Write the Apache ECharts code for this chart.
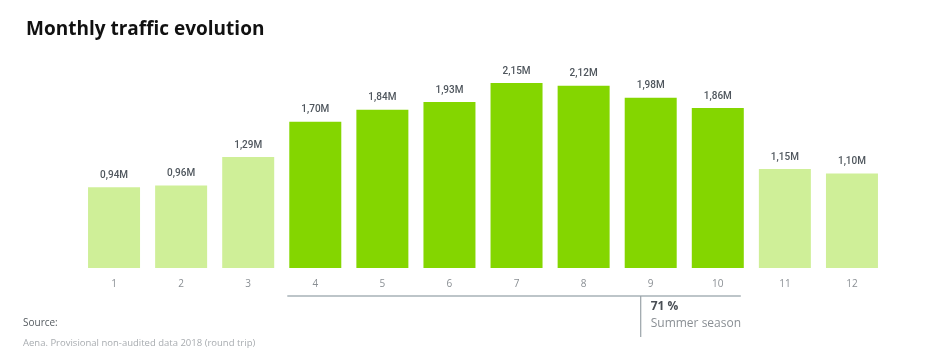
<!DOCTYPE html>
<html><head><meta charset="utf-8">
<script src="https://cdn.jsdelivr.net/npm/echarts@6/dist/echarts.min.js"></script>
<style>html,body{margin:0;padding:0;background:#fff}#c{width:925px;height:360px}</style>
</head><body><div id="c"></div>
<script>
const months = ['1','2','3','4','5','6','7','8','9','10','11','12'];
const traffic = [0.94, 0.96, 1.29, 1.70, 1.84, 1.93, 2.15, 2.12, 1.98, 1.86, 1.15, 1.10];
const summerMonths = ['4','5','6','7','8','9','10'];
const summerShare = '71 %';
const summerLabel = 'Summer season';

const dark = '#84D600', light = '#CFEF98';
const chart = echarts.init(document.getElementById('c'));
const data = traffic.map((v, i) => ({
  value: v,
  itemStyle: { color: summerMonths.includes(months[i]) ? dark : light }
}));
chart.setOption({
  animation: false,
  title: {
    text: 'Monthly traffic evolution', left: 21, top: 15,
    textStyle: { fontFamily: 'Open Sans', fontWeight: 'bold', fontSize: 19, color: '#111' }
  },
  grid: { left: 80.5, right: 39.5, top: 53, bottom: 92 },
  xAxis: {
    type: 'category', data: months,
    axisLine: { show: false }, axisTick: { show: false },
    axisLabel: { color: '#8a8f94', fontFamily: 'Open Sans', fontSize: 10, margin: 11 }
  },
  yAxis: { type: 'value', min: 0, max: 2.5, show: false, splitLine: { show: false } },
  series: [{
    type: 'bar', data: data, barWidth: 52,
    label: {
      show: true, position: 'top', distance: 7,
      color: '#4f565d', fontFamily: 'Roboto', fontWeight: 500, fontSize: 10,
      formatter: p => p.value.toFixed(2).replace('.', ',') + 'M'
    }
  }]
});

function drawAnnotation() {
  const i0 = months.indexOf(summerMonths[0]);
  const i1 = months.indexOf(summerMonths[summerMonths.length - 1]);
  const halfBar = 26;
  const x0 = chart.convertToPixel({ xAxisIndex: 0 }, i0) - halfBar - 2;
  const x1 = chart.convertToPixel({ xAxisIndex: 0 }, i1) + halfBar - 3;
  const xc = chart.convertToPixel({ xAxisIndex: 0 }, i1 - 1);
  const xv = xc - 10;
  const y = 296;
  chart.setOption({
    graphic: [
      { type: 'line', shape: { x1: x0, y1: y, x2: x1, y2: y }, style: { stroke: '#7d8c94', lineWidth: 1.2 } },
      { type: 'line', shape: { x1: xv, y1: y, x2: xv, y2: 337 }, style: { stroke: '#9aa3a8', lineWidth: 1.2 } },
      { type: 'text', x: xc, y: 301, style: { text: summerShare, fontFamily: 'Open Sans', fontWeight: 'bold', fontSize: 12, fill: '#4a4f55' } },
      { type: 'text', x: xc, y: 318, style: { text: summerLabel, fontFamily: 'Open Sans', fontSize: 12, fill: '#8a8f94' } },
      { type: 'text', x: 23, y: 318, style: { text: 'Source:', fontFamily: 'Open Sans', fontSize: 10, fill: '#555b60' } },
      { type: 'text', x: 23, y: 338, style: { text: 'Aena. Provisional non-audited data 2018 (round trip)', fontFamily: 'Open Sans', fontSize: 9.5, fill: '#a8acb0' } }
    ]
  });
}
drawAnnotation();
</script></body></html>
